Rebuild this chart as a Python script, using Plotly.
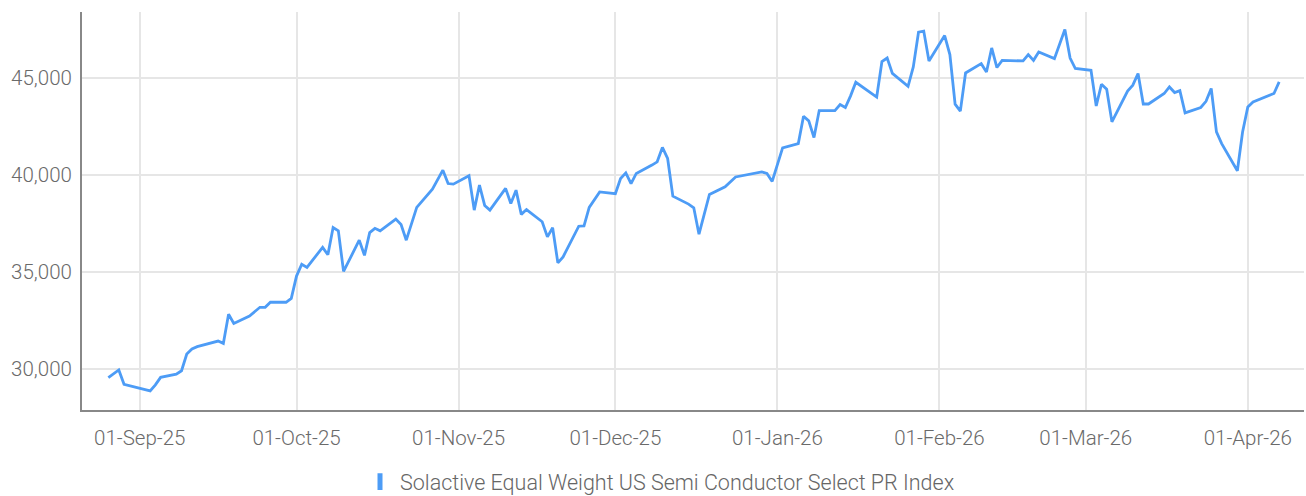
import plotly.graph_objects as go

dates = [
    "2025-08-26", "2025-08-28", "2025-08-29", "2025-09-03", "2025-09-04", "2025-09-05",
    "2025-09-08", "2025-09-09", "2025-09-10", "2025-09-11", "2025-09-12", "2025-09-16",
    "2025-09-17", "2025-09-18", "2025-09-19", "2025-09-22", "2025-09-24", "2025-09-25",
    "2025-09-26", "2025-09-29", "2025-09-30",
    "2025-10-01", "2025-10-02", "2025-10-03", "2025-10-06", "2025-10-07", "2025-10-08",
    "2025-10-09", "2025-10-10", "2025-10-13", "2025-10-14", "2025-10-15", "2025-10-16",
    "2025-10-17", "2025-10-20", "2025-10-21", "2025-10-22", "2025-10-24", "2025-10-27",
    "2025-10-29", "2025-10-30", "2025-10-31",
    "2025-11-03", "2025-11-04", "2025-11-05", "2025-11-06", "2025-11-07", "2025-11-10",
    "2025-11-11", "2025-11-12", "2025-11-13", "2025-11-14", "2025-11-17", "2025-11-18",
    "2025-11-19", "2025-11-20", "2025-11-21", "2025-11-24", "2025-11-25", "2025-11-26",
    "2025-11-28",
    "2025-12-01", "2025-12-02", "2025-12-03", "2025-12-04", "2025-12-05", "2025-12-08",
    "2025-12-09", "2025-12-10", "2025-12-11", "2025-12-12", "2025-12-15", "2025-12-16",
    "2025-12-17", "2025-12-19", "2025-12-22", "2025-12-24", "2025-12-26", "2025-12-29",
    "2025-12-30", "2025-12-31",
    "2026-01-02", "2026-01-05", "2026-01-06", "2026-01-07", "2026-01-08", "2026-01-09",
    "2026-01-12", "2026-01-13", "2026-01-14", "2026-01-15", "2026-01-16", "2026-01-20",
    "2026-01-21", "2026-01-22", "2026-01-23", "2026-01-26", "2026-01-27", "2026-01-28",
    "2026-01-29", "2026-01-30",
    "2026-02-02", "2026-02-03", "2026-02-04", "2026-02-05", "2026-02-06", "2026-02-09",
    "2026-02-10", "2026-02-11", "2026-02-12", "2026-02-13", "2026-02-17", "2026-02-18",
    "2026-02-19", "2026-02-20", "2026-02-23", "2026-02-25", "2026-02-26", "2026-02-27",
    "2026-03-02", "2026-03-03", "2026-03-04", "2026-03-05", "2026-03-06", "2026-03-09",
    "2026-03-10", "2026-03-11", "2026-03-12", "2026-03-13", "2026-03-16", "2026-03-17",
    "2026-03-18", "2026-03-19", "2026-03-20", "2026-03-23", "2026-03-24", "2026-03-25",
    "2026-03-26", "2026-03-27", "2026-03-30", "2026-03-31",
    "2026-04-01", "2026-04-02", "2026-04-06", "2026-04-07",
]

values = [
    29550, 29950, 29210, 28870, 29180, 29570, 29730, 29910, 30770, 31030, 31150, 31440,
    31320, 32820, 32350, 32730, 33180, 33180, 33440, 33440, 33640,
    34790, 35400, 35240, 36270, 35890, 37290, 37120, 35030, 36640, 35860, 37030, 37250,
    37120, 37730, 37450, 36640, 38330, 39270, 40250, 39560, 39530,
    39960, 38190, 39480, 38430, 38190, 39310, 38530, 39220, 37970, 38220, 37590, 36810,
    37280, 35470, 35780, 37360, 37380, 38330, 39130,
    39040, 39820, 40110, 39560, 40080, 40510, 40680, 41420, 40850, 38910, 38500, 38310,
    36950, 39000, 39390, 39900, 40010, 40160, 40080, 39670,
    41400, 41620, 43030, 42790, 41930, 43320, 43320, 43630, 43480, 44080, 44780, 44020,
    45850, 46030, 45240, 44570, 45570, 47360, 47420, 45880,
    47190, 46210, 43650, 43290, 45260, 45740, 45310, 46550, 45540, 45910, 45880, 46210,
    45910, 46340, 46000, 47500, 46030, 45490,
    45400, 43560, 44680, 44420, 42740, 44330, 44630, 45230, 43660, 43660, 44200, 44540,
    44250, 44350, 43200, 43480, 43800, 44460, 42220, 41620, 40220, 42220,
    43510, 43770, 44200, 44800,
]

series_name = "Solactive Equal Weight US Semi Conductor Select PR Index"
x_ticks = ["2025-09-01", "2025-10-01", "2025-11-01", "2025-12-01",
           "2026-01-01", "2026-02-01", "2026-03-01", "2026-04-01"]
y_ticks = [30000, 35000, 40000, 45000]

LINE = "#4d9cf6"
FONT = "Roboto, sans-serif"

fig = go.Figure()
fig.add_trace(go.Scatter(
    x=dates, y=values, mode="lines",
    line=dict(color=LINE, width=2.8),
    showlegend=False, name=series_name,
))
fig.add_trace(go.Scatter(
    x=[None], y=[None], mode="markers", name=series_name,
    marker=dict(symbol="line-ns", size=12, color=LINE,
                line=dict(color=LINE, width=6)),
    showlegend=True,
))

fig.update_layout(
    width=1306, height=496,
    margin=dict(l=82, r=2, t=12, b=86, autoexpand=False),
    paper_bgcolor="white", plot_bgcolor="white",
    font=dict(family=FONT, size=20.5, color="#6a6a6a", weight=300),
    legend=dict(orientation="h", x=0.2275, xanchor="left", y=-0.18, yanchor="middle",
                font=dict(family=FONT, size=21.5, color="#666666", weight=300), itemwidth=30),
    xaxis=dict(
        type="date",
        range=["2025-08-20 23:00", "2026-04-11 18:00"],
        tickvals=x_ticks, tickformat="%d-%b-%y",
        showgrid=True, gridcolor="#e6e6e6", gridwidth=2,
        showline=True, linecolor="#888888", linewidth=2,
        ticks="", ticklabelstandoff=8,
        zeroline=False, automargin=False,
    ),
    yaxis=dict(
        range=[27886, 48403],
        tickvals=y_ticks, tickformat=",",
        showgrid=True, gridcolor="#e6e6e6", gridwidth=2,
        showline=True, linecolor="#888888", linewidth=2,
        ticks="", ticklabelstandoff=4,
        zeroline=False, automargin=False,
    ),
)

fig.write_html(
    "out.html",
    config={"displayModeBar": False},
    post_script="document.body.style.margin='0';document.body.style.overflow='hidden';",
)
